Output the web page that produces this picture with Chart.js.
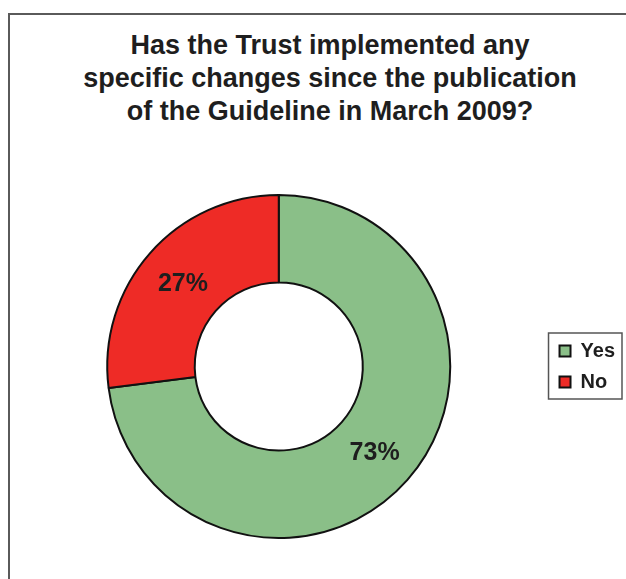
<!DOCTYPE html>
<html>
<head>
<meta charset="utf-8">
<title>Guideline changes</title>
<script src="https://cdn.jsdelivr.net/npm/chart.js@4"></script>
<style>
  html, body {
    margin: 0;
    padding: 0;
    background: #ffffff;
    overflow: hidden;
  }
  #wrap {
    position: relative;
    width: 626px;
    height: 579px;
  }
  #frame {
    position: absolute;
    left: 8px;
    top: 13px;
    width: 700px;
    height: 700px;
    border-left: 2px solid #5a5a5a;
    border-top: 2px solid #5a5a5a;
  }
  #title {
    position: absolute;
    left: 30px;
    top: 29px;
    width: 600px;
    text-align: center;
    font-family: "Liberation Sans", Arial, sans-serif;
    font-weight: bold;
    font-size: 27px;
    line-height: 33px;
    color: #1e1e1e;
  }
  #chart {
    position: absolute;
    left: 0;
    top: 0;
  }
</style>
</head>
<body>
<div id="wrap">
  <div id="frame"></div>
  <div id="title">Has the Trust implemented any<br>specific changes since the publication<br>of the Guideline in March 2009?</div>
  <canvas id="chart" width="626" height="579"></canvas>
</div>
<script>
// survey answers, in percent
var answers = ['Yes', 'No'];
var shares = [73, 27];
var sliceColours = ['#8abf88', '#ee2b26'];

var FONT = '"Liberation Sans", Arial, sans-serif';

// writes the percentage in the middle of each slice
var sliceLabels = {
    id: 'sliceLabels',
    afterDatasetsDraw: function (chart) {
        var ctx = chart.ctx;
        var meta = chart.getDatasetMeta(0);
        ctx.save();
        ctx.font = 'bold 25px ' + FONT;
        ctx.fillStyle = '#1e1e1e';
        ctx.textAlign = 'center';
        ctx.textBaseline = 'middle';
        meta.data.forEach(function (arc, i) {
            var pos = arc.tooltipPosition();
            ctx.fillText(shares[i] + '%', pos.x, pos.y + 2);
        });
        ctx.restore();
    }
};

// thin box around the legend entries
var legendFrame = {
    id: 'legendFrame',
    afterDraw: function (chart) {
        var boxes = chart.legend.legendHitBoxes;
        if (!boxes || !boxes.length) return;
        var first = boxes[0];
        var last = boxes[boxes.length - 1];
        var right = Math.max.apply(null, boxes.map(function (b) { return b.left + b.width; }));
        var ctx = chart.ctx;
        ctx.save();
        ctx.strokeStyle = '#555';
        ctx.lineWidth = 1.5;
        ctx.strokeRect(first.left - 11, first.top - 8, right - first.left + 18, last.top + last.height - first.top + 15);
        ctx.restore();
    }
};

document.addEventListener('DOMContentLoaded', function () {
    var ctx = document.getElementById('chart').getContext('2d');

    new Chart(ctx, {
        type: 'doughnut',
        data: {
            labels: answers,
            datasets: [{
                data: shares,
                backgroundColor: sliceColours,
                borderColor: '#111111',
                borderWidth: 2
            }]
        },
        options: {
            responsive: false,
            animation: false,
            cutout: '49%',
            layout: {
                padding: { top: 194, bottom: 40, left: 9, right: 1 }
            },
            plugins: {
                title: { display: false },
                tooltip: { enabled: false },
                legend: {
                    position: 'right',
                    labels: {
                        boxWidth: 11,
                        boxHeight: 11,
                        padding: 11,
                        color: '#1e1e1e',
                        font: { family: FONT, size: 20, weight: 'bold' }
                    }
                }
            }
        },
        plugins: [sliceLabels, legendFrame]
    });
});
</script>
</body>
</html>
